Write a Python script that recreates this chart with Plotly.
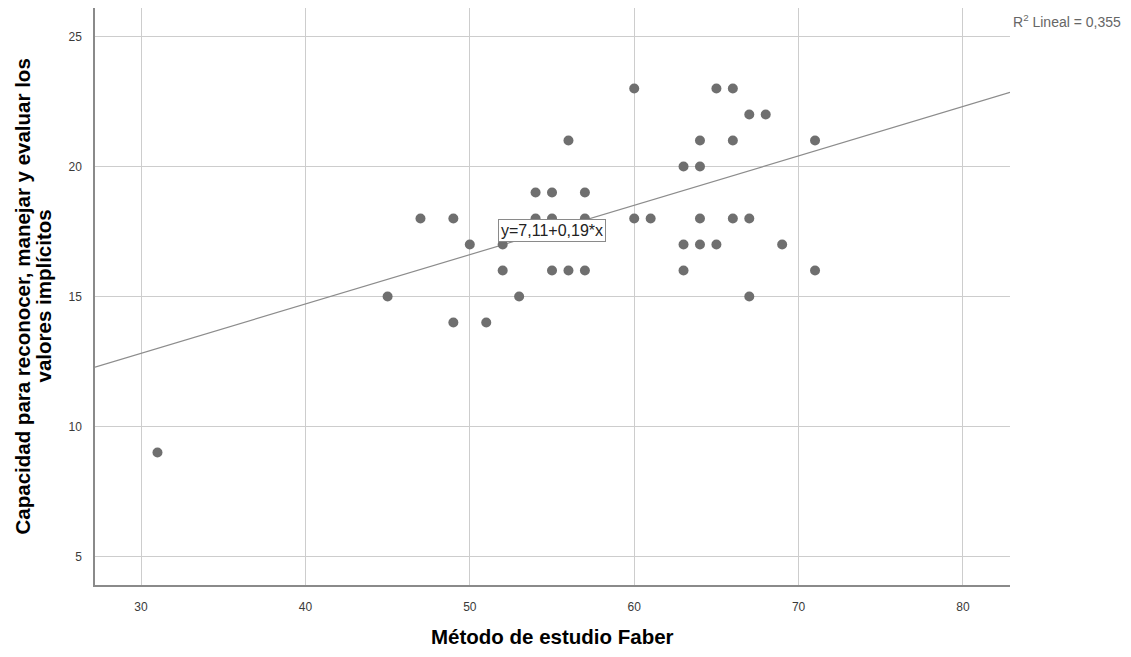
import plotly.graph_objects as go

# Puntajes: Método de estudio Faber (x) vs. capacidad para valores implícitos (y)
faber = [31, 45, 47, 49, 49, 50, 51, 52, 52, 53, 54, 54, 55, 55, 55, 56, 56,
         57, 57, 57, 60, 60, 61, 63, 63, 63, 64, 64, 64, 64, 65, 65, 66, 66,
         66, 67, 67, 67, 68, 69, 71, 71]
capacidad = [9, 15, 18, 18, 14, 17, 14, 17, 16, 15, 19, 18, 19, 18, 16, 21, 16,
             19, 18, 16, 23, 18, 18, 20, 17, 16, 21, 20, 18, 17, 23, 17, 23, 21,
             18, 22, 18, 15, 22, 17, 21, 16]

# Ajuste lineal reportado
intercepto = 7.11
pendiente = 0.19
r2 = "0,355"

x_range = [27.2, 82.86]
y_range = [3.9, 26.1]
x_ticks = [30, 40, 50, 60, 70, 80]
y_ticks = [5, 10, 15, 20, 25]

x_title = "Método de estudio Faber"
y_title_lines = ["Capacidad para reconocer, manejar y evaluar los", "valores implícitos"]

font_family = "Liberation Sans, Arial, sans-serif"

fig = go.Figure()

fig.add_trace(go.Scatter(
    x=x_range,
    y=[intercepto + pendiente * v for v in x_range],
    mode="lines",
    line=dict(color="#8c8c8c", width=1.2),
    hoverinfo="skip",
    showlegend=False,
))

fig.add_trace(go.Scatter(
    x=faber,
    y=capacidad,
    mode="markers",
    marker=dict(color="#6f6f6f", size=10, line=dict(width=0)),
    showlegend=False,
))

axis_common = dict(
    showgrid=True,
    gridcolor="#cdcdcd",
    gridwidth=1,
    zeroline=False,
    showline=True,
    linecolor="#8a8a8a",
    linewidth=1.5,
    ticks="",
    tickfont=dict(family=font_family, size=12, color="#3a3a3a"),
)

fig.update_xaxes(range=x_range, tickvals=x_ticks, ticklabelstandoff=10, **axis_common)
fig.update_yaxes(range=y_range, tickvals=y_ticks, ticklabelstandoff=9, **axis_common)

title_font = dict(size=20.5, color="black", family=font_family, weight="bold")

# vertical title: two lines placed individually (tighter line spacing)
y_title_annotations = [
    dict(
        text=line,
        xref="paper", yref="paper",
        x=0, xshift=xs, y=0.5,
        xanchor="center", yanchor="middle",
        textangle=-90,
        showarrow=False,
        font=title_font,
    )
    for line, xs in zip(y_title_lines, [-73, -52])
]

fig.update_layout(
    width=1131,
    height=657,
    margin=dict(l=95, r=121, t=8, b=72),
    paper_bgcolor="white",
    plot_bgcolor="white",
    font=dict(family=font_family),
    annotations=[
        dict(
            text=x_title,
            xref="paper", yref="paper",
            x=0.5, y=-0.09,
            xanchor="center", yanchor="middle",
            showarrow=False,
            font=title_font,
        ),
        *y_title_annotations,
        dict(
            text="R<sup>2</sup> Lineal = " + r2,
            xref="paper", yref="paper",
            x=1.0, y=0.9775,
            xanchor="left", yanchor="middle",
            xshift=1,
            showarrow=False,
            font=dict(size=14, color="#666666", family=font_family),
        ),
        dict(
            text=f"y={intercepto:.2f}+{pendiente:.2f}*x".replace(".", ","),
            xref="x", yref="y",
            x=55.0, y=17.54,
            xanchor="center", yanchor="middle",
            showarrow=False,
            bgcolor="white",
            bordercolor="#8a8a8a",
            borderwidth=1,
            borderpad=2,
            font=dict(size=16, color="#222222", family=font_family),
        ),
    ],
)

fig.write_html("out.html")
